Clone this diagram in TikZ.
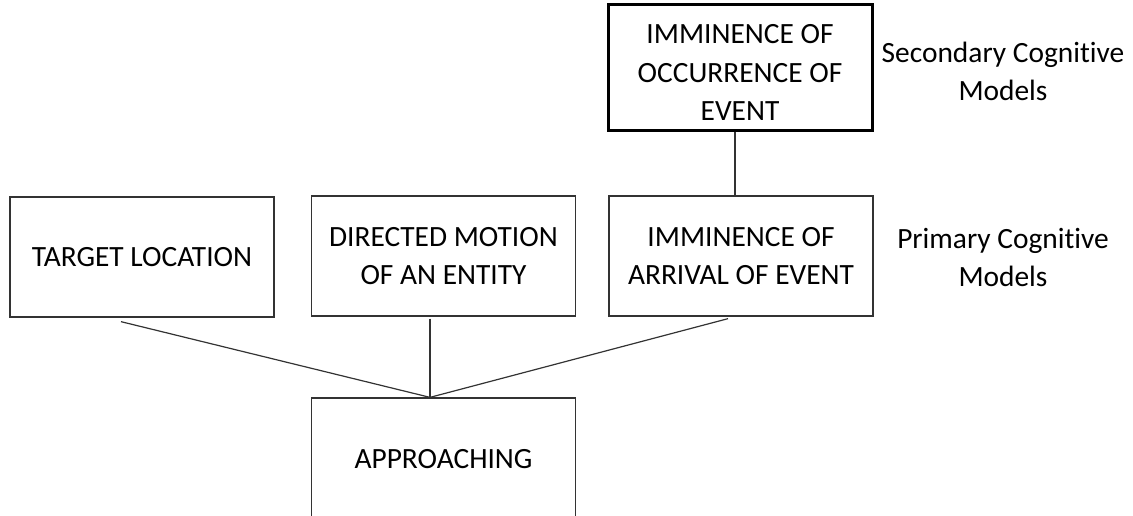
\documentclass[tikz,border=0pt]{standalone}
\usepackage{fontspec}
\setmainfont{Carlito}[Ligatures=NoCommon]
\usetikzlibrary{calc}

\tikzset{
    modelbox/.style={draw=black!80, line width=0.65pt, minimum width=132pt, minimum height=60pt,
        inner sep=0pt, align=center, font=\fontsize{14.7}{19.3}\selectfont},
    topbox/.style={modelbox, draw=black, line width=1.5pt, minimum height=63pt},
    levellabel/.style={align=center, font=\fontsize{14.7}{19}\selectfont},
    link/.style={black!80, line width=0.6pt}
}

\begin{document}
\begin{tikzpicture}[x=0.5pt, y=-0.5pt]
            \useasboundingbox (0,0) rectangle (1133,515);
            \clip (0,0) rectangle (1133,515);

            % secondary level
            \node[topbox] (occurrence) at (740,67) {\rule{0pt}{15pt}IMMINENCE OF\\OCCURRENCE OF\\EVENT};
            \node[levellabel] (secondary) at (1003,71) {Secondary Cognitive\\Models};

            % primary level
            \node[modelbox] (target) at (142,257) {TARGET LOCATION};
            \node[modelbox] (motion) at (443.5,256) {DIRECTED MOTION\\OF AN ENTITY};
            \node[modelbox] (arrival) at (741,256) {IMMINENCE OF\\ARRIVAL OF EVENT};
            \node[levellabel] (primary) at (1003,257) {Primary Cognitive\\Models};

            % blend
            \node[modelbox, minimum height=61pt] (approaching) at (443.5,459) {APPROACHING};
            \coordinate (hub) at ($(approaching.north)+(-13.5,0)$);

            \draw[link] ($(occurrence.south)+(-5,0)$) -- ($(arrival.north)+(-6,0)$);
            \draw[link] ($(target.south)+(-21,4)$) -- (hub);
            \draw[link] ($(motion.south)+(-13.5,2)$) -- (hub);
            \draw[link] ($(arrival.south)+(-13,2)$) -- (hub);
        \end{tikzpicture}
\end{document}
